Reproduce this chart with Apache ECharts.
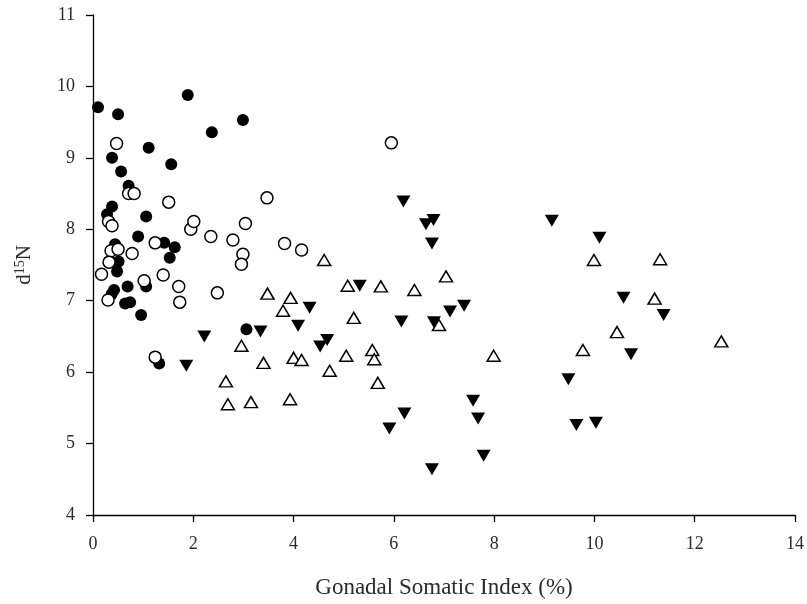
<!DOCTYPE html>
<html>
<head>
<meta charset="utf-8">
<script src="https://cdn.jsdelivr.net/npm/echarts@6/dist/echarts.min.js"></script>
<style>html,body{margin:0;padding:0;background:#fff}#c{width:807px;height:604px}</style>
</head>
<body>
<div id="c"></div>
<script>
const xTicks = [0, 2, 4, 6, 8, 10, 12, 14];
const yTicks = [4, 5, 6, 7, 8, 9, 10, 11];
const xTitle = 'Gonadal Somatic Index (%)';

const filledCircles = [[0.10,9.71],[0.50,9.61],[1.89,9.88],[2.37,9.36],[2.99,9.53],[1.11,9.14],[0.38,9.00],[1.56,8.91],[0.56,8.81],[0.71,8.61],[0.38,8.32],[0.28,8.21],[1.06,8.18],[0.90,7.90],[1.42,7.81],[1.63,7.75],[0.44,7.79],[1.53,7.60],[0.51,7.55],[0.48,7.41],[1.06,7.20],[0.69,7.20],[0.42,7.15],[0.37,7.09],[0.64,6.96],[0.74,6.98],[0.96,6.80],[3.06,6.60],[1.32,6.12]];

const openCircles = [[0.47,9.20],[5.95,9.21],[0.71,8.50],[0.82,8.50],[1.51,8.38],[3.47,8.44],[0.31,8.11],[0.38,8.05],[1.95,8.00],[2.01,8.11],[3.04,8.08],[2.35,7.90],[2.79,7.85],[3.82,7.80],[4.16,7.71],[2.99,7.65],[2.96,7.51],[1.24,7.81],[0.78,7.66],[0.36,7.70],[0.50,7.72],[0.32,7.54],[0.17,7.37],[1.40,7.36],[1.02,7.28],[1.71,7.20],[2.48,7.11],[0.30,7.01],[1.73,6.98],[1.24,6.21]];

const downTriangles = [[1.86,6.09],[2.22,6.50],[3.34,6.57],[4.32,6.90],[4.09,6.65],[4.67,6.45],[4.53,6.36],[5.32,7.21],[6.19,8.39],[6.79,8.13],[6.64,8.07],[6.76,7.80],[6.15,6.71],[6.80,6.70],[7.12,6.85],[7.40,6.93],[6.21,5.42],[5.91,5.21],[7.58,5.60],[7.68,5.35],[7.79,4.83],[6.76,4.64],[9.15,8.12],[10.10,7.88],[10.58,7.04],[11.38,6.80],[10.73,6.25],[9.48,5.90],[9.64,5.26],[10.03,5.29]];

const openTriangles = [[4.61,7.57],[5.08,7.21],[5.74,7.20],[3.48,7.10],[3.94,7.04],[3.79,6.86],[5.20,6.76],[2.96,6.37],[5.57,6.31],[5.05,6.23],[4.00,6.20],[4.16,6.17],[5.61,6.18],[3.40,6.13],[4.72,6.02],[2.65,5.87],[5.68,5.85],[2.69,5.55],[3.15,5.58],[3.93,5.62],[7.04,7.34],[6.41,7.15],[6.90,6.66],[7.99,6.23],[9.99,7.57],[11.31,7.58],[11.20,7.03],[10.45,6.56],[12.53,6.43],[9.77,6.31]];

const FONT = '"Liberation Serif", "DejaVu Serif", serif';
const TXT = '#2b2b2b';

const chart = echarts.init(document.getElementById('c'), null, {renderer: 'canvas'});
chart.setOption({
  animation: false,
  backgroundColor: '#fff',
  grid: {left: 93, right: 12, top: 15, bottom: 84, containLabel: false},
  xAxis: {
    type: 'value', min: xTicks[0], max: xTicks[xTicks.length - 1], interval: 2,
    name: xTitle, nameLocation: 'middle', nameGap: 61,
    nameTextStyle: {fontFamily: FONT, fontSize: 23, color: TXT},
    axisLine: {show: true, onZero: false, lineStyle: {color: '#000', width: 1.3}},
    axisTick: {show: true, length: 7, lineStyle: {color: '#000', width: 1.3}},
    axisLabel: {fontFamily: FONT, fontSize: 18, color: TXT, margin: 20},
    splitLine: {show: false}
  },
  yAxis: {
    type: 'value', min: yTicks[0], max: yTicks[yTicks.length - 1], interval: 1,
    name: '{a|d}{b|15}{a|N}', nameLocation: 'middle', nameGap: 58, nameRotate: 90,
    nameTextStyle: {
      rich: {
        a: {fontFamily: FONT, fontSize: 21, color: TXT},
        b: {fontFamily: FONT, fontSize: 14, color: TXT, verticalAlign: 'top', padding: [0, 0, 8, 0]}
      }
    },
    axisLine: {show: true, onZero: false, lineStyle: {color: '#000', width: 1.3}},
    axisTick: {show: true, length: 7, lineStyle: {color: '#000', width: 1.3}},
    axisLabel: {fontFamily: FONT, fontSize: 18, color: TXT, margin: 18},
    splitLine: {show: false}
  },
  series: [
    {type: 'scatter', data: filledCircles, symbol: 'circle', symbolSize: 12,
     itemStyle: {color: '#000', opacity: 1}},
    {type: 'scatter', data: downTriangles, symbol: 'triangle', symbolSize: [14, 12], symbolRotate: 180,
     itemStyle: {color: '#000', opacity: 1}},
    {type: 'scatter', data: openCircles, symbol: 'circle', symbolSize: 12,
     itemStyle: {color: '#fff', borderColor: '#000', borderWidth: 1.5, opacity: 1}},
    {type: 'scatter', data: openTriangles, symbol: 'triangle', symbolSize: [13, 11],
     itemStyle: {color: '#fff', borderColor: '#000', borderWidth: 1.5, opacity: 1}}
  ]
});
</script>
</body>
</html>
